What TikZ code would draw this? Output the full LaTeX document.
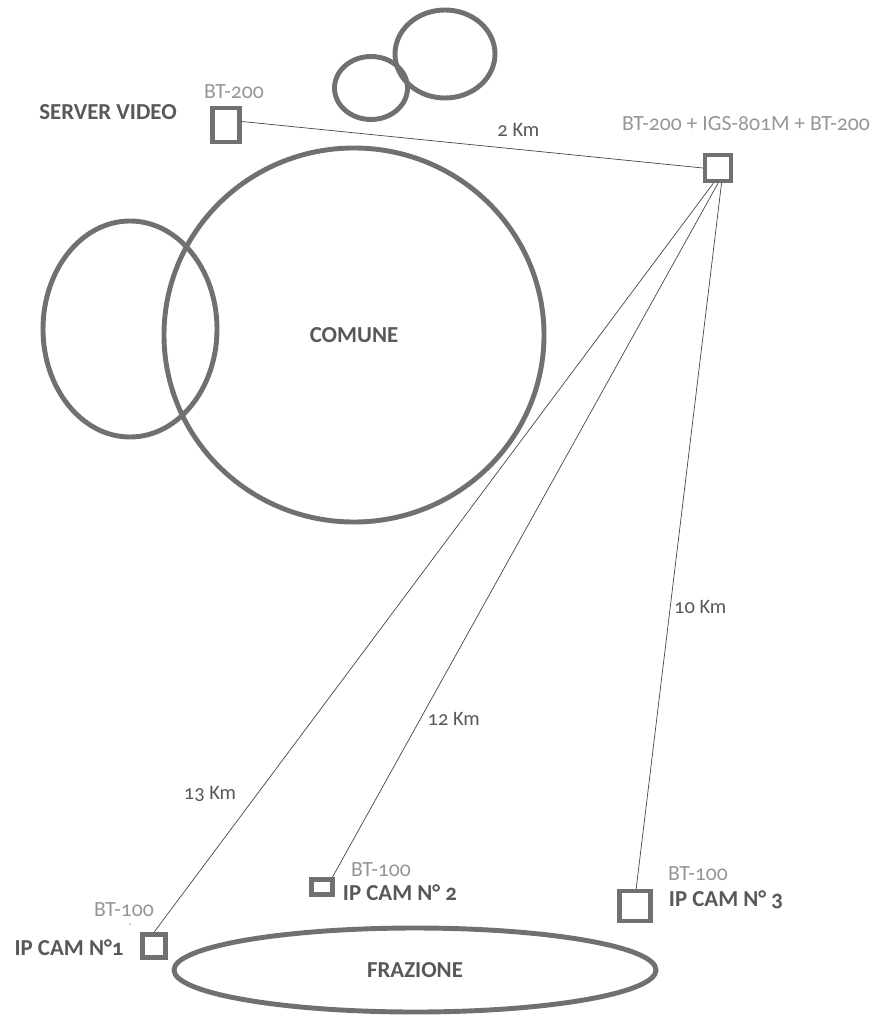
\documentclass[tikz,border=0pt]{standalone}
\usepackage{fontspec}
\setmainfont{Carlito}[Numbers=OldStyle]
\usetikzlibrary{shapes.geometric, positioning}

\definecolor{ringgray}{RGB}{112,112,112}
\definecolor{linkgray}{RGB}{70,70,70}
\definecolor{textgray}{RGB}{88,88,88}
\definecolor{taggray}{RGB}{150,150,150}

\begin{document}
\begin{tikzpicture}[
  x=0.03cm, y=-0.03cm,
  ring/.style = {draw=ringgray, line width=4.2pt, ellipse, inner sep=0pt},
  station/.style = {draw=ringgray, line width=3.8pt, inner sep=0pt},
  link/.style = {draw=linkgray, line width=0.6pt},
  place/.style = {font=\fontsize{19.5}{22}\selectfont\bfseries, text=textgray, inner sep=1pt},
  tag/.style = {font=\fontsize{18.5}{21}\selectfont, text=taggray, inner sep=1pt},
  dist/.style = {font=\fontsize{17.5}{20}\selectfont, text=textgray, inner sep=1pt}
]
\useasboundingbox (0,0) rectangle (873,1021);

% Areas
\node[ring, minimum width=2.19cm, minimum height=1.89cm] (cloudA) at (371,88) {};
\node[ring, minimum width=3cm, minimum height=2.64cm] (cloudB) at (445,54) {};
\node[ring, minimum width=5.22cm, minimum height=6.48cm] (west) at (130,329) {};
\node[ring, minimum width=11.4cm, minimum height=11.22cm, place] (comune) at (354,335) {COMUNE};
\node[ring, minimum width=14.46cm, minimum height=2.52cm, place] (frazione) at (415,970) {FRAZIONE};

% Stations
\node[station, minimum width=0.81cm, minimum height=1.02cm] (server) at (226,125) {};
\node[station, minimum width=0.78cm, minimum height=0.78cm] (hub) at (718,168) {};
\node[station, minimum width=0.69cm, minimum height=0.69cm] (cam1) at (154,946) {};
\node[station, minimum width=0.63cm, minimum height=0.45cm] (cam2) at (322,887) {};
\node[station, minimum width=0.93cm, minimum height=0.9cm] (cam3) at (635,906) {};

% Labels
\node[place] at (108,112) {SERVER VIDEO};
\node[tag] at (234,92) {BT-200};
\node[tag] at (746,124) {BT-200 + IGS-801M + BT-200};
\node[tag] at (124,910) {BT-100};
\node[tag, font=\tiny] at (130,925) {+};
\node[place] at (69,948) {IP CAM N°1};
\node[tag] at (381,870) {BT-100};
\node[place] at (400,893) {IP CAM N° 2};
\node[tag] at (698,874) {BT-100};
\node[place] at (726,900) {IP CAM N° 3};

% Links
\draw[link] ([yshift=3pt]server.east) -- node[dist, pos=0.6, above=10pt]{2 Km} (hub.west);
\draw[link] ([xshift=-4pt]hub.south) -- node[dist, pos=0.815, left=17pt]{13 Km} (cam1.north);
\draw[link] (hub.south) -- node[dist, pos=0.772, right=5pt]{12 Km} ([xshift=-2pt]cam2.north east);
\draw[link] ([xshift=3pt]hub.south) -- node[dist, pos=0.6, right=2pt]{10 Km} ([xshift=1pt]cam3.north);

\end{tikzpicture}
\end{document}
